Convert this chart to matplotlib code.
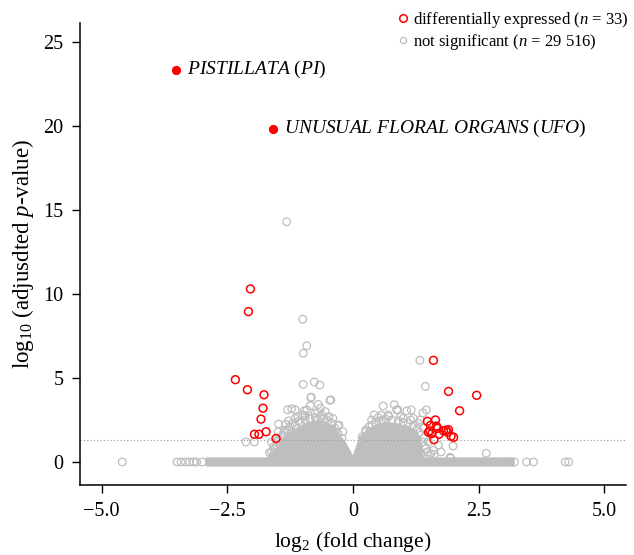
import matplotlib
matplotlib.use("Agg")
import matplotlib.pyplot as plt
from matplotlib.lines import Line2D

plt.rcParams['font.family'] = ['Liberation Serif', 'DejaVu Serif']
plt.rcParams['mathtext.fontset'] = 'custom'
plt.rcParams['mathtext.rm'] = 'Liberation Serif'
plt.rcParams['mathtext.it'] = 'Liberation Serif:italic'
plt.rcParams['mathtext.bf'] = 'Liberation Serif:bold'

# ---- data ----
# labelled genes (filled red)
label_names = [r'$\it{PISTILLATA}$ ($\it{PI}$)',
               r'$\it{UNUSUAL}$ $\it{FLORAL}$ $\it{ORGANS}$ ($\it{UFO}$)']
label_x = [-3.53, -1.60]
label_y = [23.35, 19.85]

# differentially expressed (open red)
de_x = [-2.04, -2.08, -2.34, -2.10, -1.77, -1.79, -1.83, -1.96, -1.87, -1.73, -1.53,
        1.60, 1.90, 2.46, 2.12, 1.48, 1.64, 1.54, 1.66, 1.50, 1.57,
        1.71, 1.61, 1.85, 1.90, 1.88, 1.95, 2.00, 1.80, 1.53, 1.68]
de_y = [10.3, 8.95, 4.9, 4.3, 4.0, 3.2, 2.55, 1.65, 1.65, 1.8, 1.4,
        6.05, 4.2, 3.97, 3.05, 2.42, 2.50, 2.18, 2.14, 1.77, 1.69,
        1.65, 1.33, 1.90, 1.92, 1.77, 1.53, 1.47, 1.86, 1.86, 2.00]

# not significant, individually visible points
ns_x = [-1.32, -1.00, -0.92, -0.99, -0.99, -0.77, -0.66, -0.84, -0.83, -0.46, -0.44,
        -1.30, -1.22, -1.15, -0.97, -0.92, -0.85, -0.69, -0.65, -1.48, -1.34, -1.20,
        -1.09, -0.87, -0.28, -0.30, -1.49, -1.21, -2.13, -1.96, -1.62, -1.58, -1.62,
        -1.55, -1.50, -1.10, -0.75, -0.55, -1.00, -1.40, -1.45, -1.35, -0.40, -0.20,
        -1.42, -1.38, -1.30, -1.25, -1.15, -1.05, -0.95, -0.85, -0.75, -0.65, -0.58,
        -0.50, -0.42, -0.35, -0.30, -0.22, -1.15, -0.95, -0.70, -0.62, -0.48, -1.28,
        -1.60, -1.57, -1.52, -1.48, -1.44, -1.66,
        1.33, 1.44, 0.60, 0.82, 0.87, 1.07, 1.16, 1.39, 1.46, 0.42, 0.56, 0.71, 0.89,
        1.15, 1.34, 0.37, 0.38, 0.26, 1.99, 2.65, 1.94, 1.93, 1.50, 1.45, 1.55, 1.70,
        1.60, 1.42, 1.40, 1.00, 0.60, 1.30, 0.20, 1.25,
        0.18, 0.25, 0.32, 0.45, 0.55, 0.65, 0.78, 0.90, 1.00, 1.10, 1.20, 1.28, 1.32,
        0.50, 0.70, 0.95, 1.20, 1.38, 1.42, 1.48, 1.52, 1.62, 1.35, 1.75,
        -4.59, -3.50, -3.42, -3.33, -3.25, -3.17, -3.11, -3.00,
        3.13, 3.21, 3.45, 3.59, 4.22, 4.29]
ns_y = [14.3, 8.5, 6.92, 6.47, 4.62, 4.76, 4.58, 3.83, 3.86, 3.67, 3.70,
        3.11, 3.17, 3.11, 3.05, 3.10, 3.35, 3.43, 3.20, 2.26, 2.24, 2.30,
        2.42, 2.58, 2.20, 2.16, 1.79, 1.75, 1.19, 1.19, 1.17, 0.90, 0.60,
        0.40, 1.30, 2.70, 2.90, 3.00, 2.80, 1.60, 1.10, 1.90, 2.60, 1.80,
        1.50, 1.75, 1.90, 2.10, 2.20, 2.35, 2.50, 2.55, 2.65, 2.70, 2.55,
        2.45, 2.30, 2.00, 1.70, 1.40, 2.60, 2.75, 2.95, 2.80, 2.70, 2.45,
        0.35, 0.75, 1.00, 1.25, 0.55, 0.55,
        6.05, 4.50, 3.33, 3.41, 3.10, 3.04, 3.10, 2.92, 3.10, 2.80, 2.78, 2.70, 3.11,
        2.50, 2.50, 2.50, 2.20, 1.80, 0.95, 0.52, 0.22, 0.28, 1.20, 0.80, 0.50, 1.00,
        0.70, 1.45, 2.00, 2.60, 2.50, 2.30, 1.40, 1.00,
        1.50, 1.90, 2.10, 2.35, 2.45, 2.55, 2.50, 2.45, 2.35, 2.30, 2.20, 2.00, 1.75,
        2.65, 2.80, 2.70, 2.60, 1.20, 0.95, 0.60, 0.35, 0.45, 0.50, 0.60,
        0, 0, 0, 0, 0, 0, 0, 0,
        0, 0, 0, 0, 0, 0]

# outline of the dense, fully overlapping mass of not-significant points
mass_x = [-2.92, 3.20, 3.20, 1.40, 1.36, 1.32, 1.26, 1.10, 0.90, 0.70, 0.50, 0.35,
          0.22, 0.12, 0.05, 0.00, -0.06, -0.15, -0.28, -0.40, -0.60, -0.80, -1.00,
          -1.20, -1.38, -1.45, -1.60, -1.70, -2.92]
mass_y = [-0.24, -0.24, 0.24, 0.24, 1.00, 1.50, 1.85, 2.10, 2.25, 2.35, 2.25, 2.05,
          1.75, 1.35, 0.75, 0.30, 0.65, 1.15, 1.65, 2.15, 2.45, 2.40, 2.15,
          1.85, 1.45, 1.00, 0.55, 0.24, 0.24]

threshold = 1.3
xticks = [-5.0, -2.5, 0, 2.5, 5.0]
xtick_labels = ['\u22125.0', '\u22122.5', '0', '2.5', '5.0']
yticks = [0, 5, 10, 15, 20, 25]
ytick_labels = ['0', '5', '10', '15', '20', '25']
legend_labels = [r'differentially expressed ($n$ = 33)',
                 r'not significant ($n$ = 29 516)']

GREY = '#BEBEBE'
RED = '#FF0000'

fig = plt.figure(figsize=(6.34, 5.55), dpi=100)
ax = fig.add_axes([80/634, 1-485/555, (626-80)/634, (485-23)/555])

ax.fill(mass_x, mass_y, color=GREY, lw=0.8, zorder=1)
ax.scatter(ns_x, ns_y, s=30, facecolors='none', edgecolors=GREY, linewidths=0.9, zorder=2)
ax.axhline(threshold, color='#999999', ls=(0, (1, 2)), lw=0.8, zorder=1.5)
ax.scatter(de_x, de_y, s=32, facecolors='none', edgecolors=RED, linewidths=1.1, zorder=3)
ax.scatter(label_x, label_y, s=32, color=RED, zorder=4)
for lx, ly, name in zip(label_x, label_y, label_names):
    ax.annotate(name, (lx, ly), xytext=(8, 0), textcoords='offset points',
                va='center', ha='left', fontsize=14)

ax.set_xlim(-5.43, 5.43)
ax.set_ylim(-1.37, 26.13)
ax.set_xticks(xticks)
ax.set_xticklabels(xtick_labels)
ax.set_yticks(yticks)
ax.set_yticklabels(ytick_labels)
ax.tick_params(labelsize=14.5, length=6, width=1, direction='out', pad=6)
for s in ['top', 'right']:
    ax.spines[s].set_visible(False)
for s in ['left', 'bottom']:
    ax.spines[s].set_linewidth(1.1)

ax.set_xlabel(r'log$_2$ (fold change)', fontsize=15.5, labelpad=7)
ax.set_ylabel(r'log$_{10}$ (adjusdted $p$-value)', fontsize=16.5, labelpad=5)

handles = [Line2D([], [], ls='none', marker='o', markersize=5.5, mfc='none',
                  mec=RED, mew=1.1),
           Line2D([], [], ls='none', marker='o', markersize=4.5, mfc='none',
                  mec=GREY, mew=0.9)]
fig.legend(handles, legend_labels, loc='upper left',
           bbox_to_anchor=(385/634, 1 + 2/555), frameon=False, fontsize=12,
           handlelength=0.8, handletextpad=0.2, labelspacing=0.15, borderpad=0.2)

fig.savefig('out.png', dpi=100)
